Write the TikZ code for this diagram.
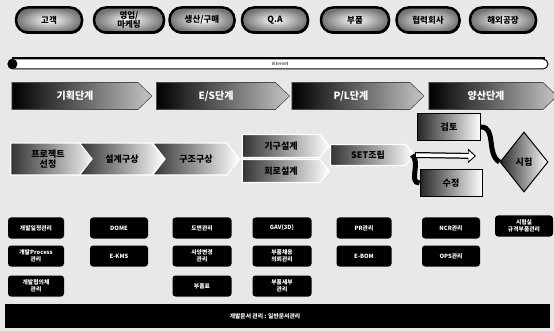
\documentclass[tikz,border=0pt]{standalone}
\usepackage{fontspec}
\setmainfont{Noto Sans CJK KR}
\usetikzlibrary{shapes.symbols,shapes.geometric,shadows,arrows.meta}
\begin{document}
\begin{tikzpicture}[x=1pt,y=-1pt,
  pill/.style={draw=black,line width=2.5pt,rounded corners=12pt,inner color=white,outer color=black!55,
    minimum height=25pt,font=\bfseries\fontsize{8.5}{9}\selectfont,align=center,inner sep=1pt,
    drop shadow={shadow xshift=1pt,shadow yshift=-1.5pt,fill=black,opacity=1}},
  phase/.style={signal,signal to=east,signal pointer angle=88,minimum height=27pt,inner sep=0pt,
    draw=black!70,line width=0.6pt,left color=black,middle color=black!85,right color=gray!45,
    text=white,font=\bfseries\fontsize{10}{11}\selectfont},
  proc/.style={signal,signal to=east,signal pointer angle=104,draw=white,line width=1.2pt,inner sep=0pt,
    left color=black!80,right color=white,text=black,font=\bfseries\fontsize{9}{10}\selectfont,align=center},
  revbox/.style={rectangle,draw=black,line width=1pt,left color=black!85,right color=white,
    text=black,font=\bfseries\fontsize{9}{10}\selectfont,inner sep=0pt},
  sysbox/.style={rectangle,rounded corners=3pt,fill=black,text=white,inner sep=0pt,align=center,
    minimum height=21pt,font=\bfseries\fontsize{5.8}{6.8}\selectfont},
  band/.style={line width=5pt,black},
]
\useasboundingbox (0,0) rectangle (554,331);
\fill[gray!18] (0,0) rectangle (554,331);

% top row
\node[pill,minimum width=66pt] (p1) at (49,20) {고객};
\node[pill,minimum width=70pt] (p2) at (129,20) {영업/\\마케팅};
\node[pill,minimum width=65pt] (p3) at (202,20) {생산/구매};
\node[pill,minimum width=66pt] (p4) at (275,20) {Q.A};
\node[pill,minimum width=68pt] (p5) at (355,20) {부품};
\node[pill,minimum width=63pt] (p6) at (428,20) {협력회사};
\node[pill,minimum width=66pt] (p7) at (503,20) {해외공장};

% internet bar
\node[draw=black,line width=1pt,fill=white,rounded corners=5pt,minimum width=540pt,minimum height=10pt,inner sep=0pt] (inet) at (278,64) {};
\draw[line width=2pt] (inet.north west) ++(4,0) -- ([xshift=-4pt]inet.north east);
\fill[black] (inet.west) ++(5,0) circle (5pt);
\node[font=\fontsize{4.5}{5}\selectfont,inner sep=0pt] (inettxt) at (280,64) {Internet};

% phases
\node[phase,minimum width=140pt] (ph1) at (75,96) {기획단계};
\node[phase,minimum width=133pt] (ph2) at (216,96) {E/S단계};
\node[phase,minimum width=132pt] (ph3) at (351,96) {P/L단계};
\node[phase,minimum width=128pt] (ph4) at (486,96) {양산단계};

% process row
\node[proc,minimum width=87pt,minimum height=32pt] (pr1) at (48,159) {프로젝트\\선정};
\node[proc,signal from=west,minimum width=85pt,minimum height=32pt] (pr2) at (122,159) {설계구상};
\node[proc,signal from=west,minimum width=87pt,minimum height=32pt] (pr3) at (196,159) {구조구상};
\node[proc,minimum width=87pt,minimum height=23pt,signal pointer angle=100] (pr4) at (281,146) {기구설계};
\node[proc,minimum width=87pt,minimum height=23pt,signal pointer angle=100] (pr5) at (281,171) {회로설계};
\node[proc,minimum width=84pt,minimum height=21pt,signal pointer angle=100] (set) at (368,155) {SET조립};
\node[revbox,minimum width=63pt,minimum height=27pt] (geom) at (449,127) {검토};
\node[revbox,minimum width=62pt,minimum height=27pt] (sujeong) at (451,183) {수정};
\node[diamond,draw=black,line width=1pt,left color=black!85,right color=white,minimum width=48pt,
  minimum height=60pt,inner sep=0pt,font=\bfseries\fontsize{9}{10}\selectfont] (test) at (524,162) {시험};

% loop
\coordinate (loopend) at (476,156);
\draw[band] ([xshift=-3pt]set.east) to[out=-40,in=180] (sujeong.west);
\draw[band] (geom.east) to[out=0,in=150] (test.west);
\draw[line width=6pt,black,-{Triangle[length=8pt,width=14pt]}] (set.east) -- (loopend);
\draw[line width=3.5pt,white,-{Triangle[length=6pt,width=10pt]}] ([xshift=1pt]set.east) -- ([xshift=-1.5pt]loopend);

% system boxes
\node[sysbox,minimum width=56pt] (c1r1) at (36,228) {개발일정관리};
\node[sysbox,minimum width=56pt] (c1r2) at (36,256) {개발Process\\관리};
\node[sysbox,minimum width=56pt] (c1r3) at (36,286) {개발협의체\\관리};
\node[sysbox,minimum width=58pt] (c2r1) at (119,228) {DOME};
\node[sysbox,minimum width=58pt] (c2r2) at (119,256) {E-KMS};
\node[sysbox,minimum width=59pt] (c3r1) at (202,228) {도면관리};
\node[sysbox,minimum width=59pt] (c3r2) at (202,256) {사양변경\\관리};
\node[sysbox,minimum width=59pt] (c3r3) at (202,286) {부품표};
\node[sysbox,minimum width=59pt] (c4r1) at (282,228) {GAV(3D)};
\node[sysbox,minimum width=59pt] (c4r2) at (282,256) {부품채용\\의뢰관리};
\node[sysbox,minimum width=59pt] (c4r3) at (282,286) {부품세부\\관리};
\node[sysbox,minimum width=55pt] (c5r1) at (364,228) {PR관리};
\node[sysbox,minimum width=55pt] (c5r2) at (364,256) {E-BOM};
\node[sysbox,minimum width=58pt] (c6r1) at (451,228) {NCR관리};
\node[sysbox,minimum width=58pt] (c6r2) at (451,256) {OPS관리};
\node[sysbox,minimum width=58pt] (c7r1) at (524,226) {시험실\\규격부품관리};

% bottom bar
\node[fill=black,minimum width=545pt,minimum height=24pt,inner sep=0pt] (bar) at (277.5,316) {};
\node[text=white,font=\bfseries\fontsize{5.8}{6.8}\selectfont,inner sep=0pt] (bartxt) at (265,316) {개발문서 관리 : 일반문서관리};
\end{tikzpicture}
\end{document}
